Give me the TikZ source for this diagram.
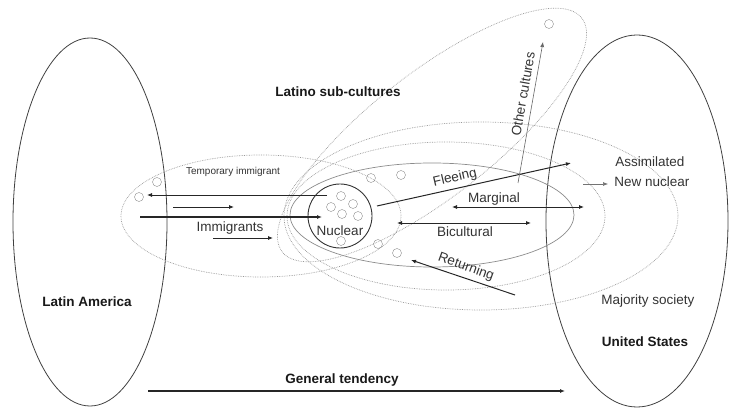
\documentclass[tikz,border=0pt]{standalone}
\usepackage{fontspec}
\setmainfont{Liberation Sans}
\usetikzlibrary{arrows.meta}

\begin{document}
\begin{tikzpicture}[x=1pt,y=-1pt,
	region/.style={draw=black!75,line width=0.8pt},
	zone/.style={draw=black!40,densely dotted,line width=0.7pt},
	ring/.style={shape=circle,draw=black!45,minimum size=9pt,inner sep=0pt},
	flow/.style={-{Latex[length=5pt,width=4pt]},line width=0.8pt,draw=black!85},
	twoway/.style={{Latex[length=5pt,width=4pt]}-{Latex[length=5pt,width=4pt]},line width=0.8pt,draw=black!85},
	txt/.style={font=\fontsize{13.5}{16}\selectfont,text=black!80},
	boldtxt/.style={font=\fontsize{13.5}{16}\selectfont\bfseries,text=black!90}]
	\useasboundingbox (0,0) rectangle (729,411);

	\draw[region] (90,222) ellipse [x radius=77pt, y radius=184pt];
	\draw[region] (637,221) ellipse [x radius=91pt, y radius=186pt];
	\draw[zone] (261,216) ellipse [x radius=140pt, y radius=61pt];
	\draw[draw=black!45,line width=0.7pt] (432,215) ellipse [x radius=142pt, y radius=52pt];
	\draw[zone] (446,216) ellipse [x radius=159pt, y radius=74pt];
	\draw[zone] (481,216) ellipse [x radius=197pt, y radius=94pt];
	\draw[zone,rotate around={38:(432,135)}] (432,135) ellipse [x radius=190pt, y radius=62pt];

	\node[shape=circle,draw=black!80,line width=0.9pt,minimum size=64pt,inner sep=0pt] (nuc) at (340,216) {};
	\node[ring] (r1) at (341,196) {};
	\node[ring] (r2) at (353,204) {};
	\node[ring] (r3) at (331,207) {};
	\node[ring] (r4) at (342,214) {};
	\node[ring] (r5) at (358,216) {};
	\node[ring] (r6) at (341,241) {};
	\node[ring] (r7) at (371,178) {};
	\node[ring] (r8) at (401,175) {};
	\node[ring] (r9) at (378,244) {};
	\node[ring] (r10) at (397,253) {};
	\node[ring] (r11) at (157,182) {};
	\node[ring] (r12) at (139,197) {};
	\node[ring] (r13) at (549,24) {};

	\coordinate (ta1) at (327,195);
	\coordinate (ta2) at (147,195);
	\coordinate (sa1) at (173,207);
	\coordinate (sa2) at (234,207);
	\coordinate (im1) at (140,217);
	\coordinate (im2) at (322,217);
	\coordinate (ia1) at (213,238);
	\coordinate (ia2) at (273,238);
	\coordinate (fl1) at (377,206);
	\coordinate (fl2) at (571,163);
	\coordinate (mg1) at (452,207);
	\coordinate (mg2) at (584,207);
	\coordinate (bc1) at (397,223);
	\coordinate (bc2) at (531,223);
	\coordinate (rt1) at (515,295);
	\coordinate (rt2) at (411,260);
	\coordinate (oc1) at (518,183);
	\coordinate (oc2) at (543,42);
	\coordinate (nn1) at (583,184);
	\coordinate (nn2) at (608,184);
	\coordinate (gt1) at (148,391);
	\coordinate (gt2) at (565,391);

	\draw[flow] (ta1) -- (ta2);
	\draw[flow] (sa1) -- (sa2);
	\draw[flow,line width=1.6pt] (im1) -- (im2);
	\draw[flow] (ia1) -- (ia2);
	\draw[flow,line width=1pt] (fl1) -- (fl2);
	\draw[twoway] (mg1) -- (mg2);
	\draw[twoway] (bc1) -- (bc2);
	\draw[flow,line width=1pt] (rt1) -- (rt2);
	\draw[flow,draw=black!60,line width=0.6pt] (oc1) -- (oc2);
	\draw[flow,draw=black!55,line width=0.6pt] (nn1) -- (nn2);
	\draw[flow,line width=1.4pt] (gt1) -- (gt2);

	\node[boldtxt] (la) at (87,302) {Latin America};
	\node[boldtxt] (us) at (645,342) {United States};
	\node[txt] (ms) at (648,301) {Majority society};
	\node[txt] (as) at (650,162) {Assimilated};
	\node[txt] (nn) at (652,182) {New nuclear};
	\node[boldtxt] (ls) at (338,92) {Latino sub-cultures};
	\node[txt,font=\fontsize{10}{12}\selectfont] (tmp) at (233,172) {Temporary immigrant};
	\node[txt] (imm) at (230,228) {Immigrants};
	\node[txt] (nt) at (340,231) {Nuclear};
	\node[txt,rotate=13] (fle) at (455,178) {Fleeing};
	\node[txt] (mar) at (494,199) {Marginal};
	\node[txt] (bic) at (465,232) {Bicultural};
	\node[txt,rotate=-20] (ret) at (466,267) {Returning};
	\node[txt,rotate=80] (oth) at (523,94) {Other cultures};
	\node[boldtxt] (gen) at (342,380) {General tendency};
\end{tikzpicture}
\end{document}
